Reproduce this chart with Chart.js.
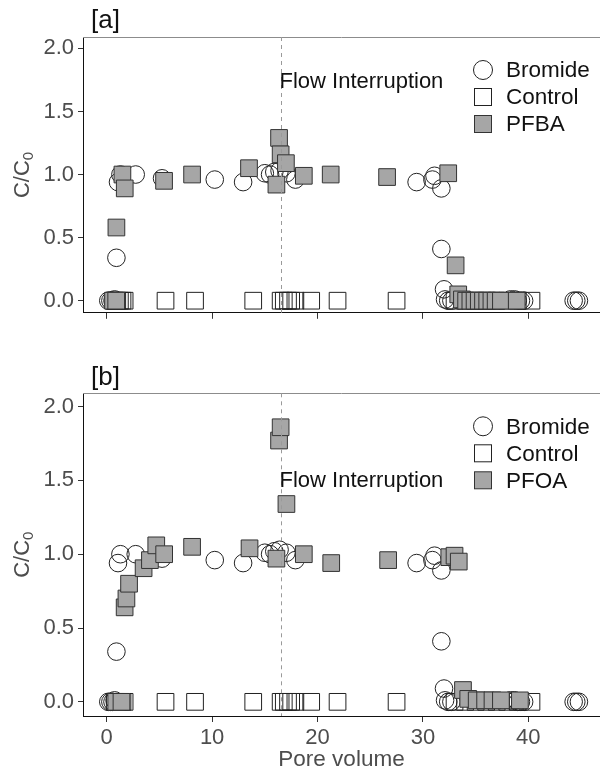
<!DOCTYPE html>
<html><head><meta charset="utf-8">
<script src="https://cdn.jsdelivr.net/npm/chart.js@4.4.0/dist/chart.umd.min.js"></script>
<style>
html,body{margin:0;padding:0;background:#fff;}
#wrap{position:relative;width:600px;height:773px;overflow:hidden;}
canvas{position:absolute;left:0;}
#ca{top:0;}
#cb{top:330px;}
</style></head><body>
<div id="wrap">
<canvas id="ca" width="600" height="330"></canvas>
<canvas id="cb" width="600" height="443"></canvas>
</div>
<script>
// ---- data ----
const bromidePV = [0.15,0.35,0.55,0.75,0.92,1.07,1.3,2.75,5.25,10.25,12.94,15.0,15.5,15.9,16.4,17.05,17.9,29.4,30.9,31.1,31.75,31.75,32.0,32.1,32.4,32.7,38.3,38.7,39.0,39.3,39.6,44.3,44.55,44.8];
const bromideC  = [0.0,0.0,0.0,0.01,0.34,0.94,1.0,1.0,0.97,0.96,0.94,1.01,1.0,1.02,1.03,1.01,0.96,0.94,0.96,0.99,0.89,0.41,0.09,0.01,0.0,0.0,0.01,0.01,0.0,0.0,0.0,0.0,0.0,0.0];

const controlPV = [0.76,1.0,1.25,1.5,1.7,5.58,8.38,13.9,16.5,16.8,17.2,17.5,17.9,19.4,21.9,27.5,33.0,34.0,35.0,36.0,37.0,38.0,39.0,40.3];
const controlC  = [0,0,0,0,0,0,0,0,0,0,0,0,0,0,0,0,0,0,0,0,0,0,0,0];

const pfbaPV = [0.6,0.9,0.92,1.49,1.71,5.44,8.1,13.5,16.1,16.35,16.5,17.0,18.7,21.25,26.6,32.4,33.1,33.35,33.7,34.1,34.5,34.9,35.3,35.7,36.1,36.5,36.9,37.4,38.9];
const pfbaC  = [0.0,0.0,0.58,1.0,0.89,0.95,1.0,1.05,0.92,1.29,1.16,1.09,0.99,1.0,0.98,1.01,0.28,0.05,0.01,0.0,0.0,0.0,0.0,0.0,0.0,0.0,0.0,0.0,0.0];

const pfoaPV = [0.9,1.4,1.7,1.87,2.12,3.5,4.1,4.7,5.45,8.1,13.55,16.1,16.35,16.5,17.05,18.7,21.3,26.7,32.5,33.0,33.4,33.8,34.3,35.1,35.9,36.6,37.4,39.2];
const pfoaC  = [0.0,0.0,0.64,0.70,0.80,0.905,0.96,1.06,1.0,1.05,1.04,0.97,1.77,1.86,1.34,1.0,0.94,0.96,0.98,0.99,0.95,0.08,0.02,0.01,0.01,0.01,0.01,0.01];

const xTicks = [0,10,20,30,40];
const yTicks = [0,0.5,1.0,1.5,2.0];
const interruptionPV = 16.5;

// ---- styling ----
const FONT = '"Liberation Sans", Arial, sans-serif';
const GRAYFILL = '#a6a6a6';
const pts = (xs, ys) => xs.map((x, i) => ({x: x, y: ys[i]}));

const deco = {
  id: 'deco',
  afterDatasetsDraw(chart, args, o) {
    const ctx = chart.ctx, a = chart.chartArea, xs = chart.scales.x;
    ctx.save();
    // top panel line
    ctx.strokeStyle = '#8c8c8c'; ctx.lineWidth = 1;
    ctx.beginPath(); ctx.moveTo(a.left, Math.round(a.top) + 0.5); ctx.lineTo(a.right, Math.round(a.top) + 0.5); ctx.stroke();
    // flow interruption dashed line
    const px = Math.round(xs.getPixelForValue(interruptionPV)) + 0.5;
    ctx.setLineDash([4, 4]); ctx.strokeStyle = '#9a9a9a';
    ctx.beginPath(); ctx.moveTo(px, a.top); ctx.lineTo(px, a.bottom); ctx.stroke();
    ctx.setLineDash([]);
    ctx.fillStyle = '#111'; ctx.textBaseline = 'middle'; ctx.textAlign = 'left';
    ctx.font = '22px ' + FONT;
    ctx.fillText('Flow Interruption', px - 2, a.top + o.flowDy);
    // panel tag
    ctx.font = '26px ' + FONT;
    ctx.fillText(o.tag, 91, o.tagY);
    // y axis title C/C0
    ctx.save();
    ctx.translate(23, (a.top + a.bottom) / 2);
    ctx.rotate(-Math.PI / 2);
    ctx.fillStyle = '#4d4d4d';
    ctx.font = '22px ' + FONT;
    const w1 = ctx.measureText('C/C').width;
    ctx.font = '15px ' + FONT;
    const w2 = ctx.measureText('0').width;
    const sx = -(w1 + w2) / 2;
    ctx.textAlign = 'left';
    ctx.font = '22px ' + FONT;
    ctx.fillText('C/C', sx, 0);
    ctx.font = '15px ' + FONT;
    ctx.fillText('0', sx + w1, 6);
    ctx.restore();
    // legend
    const lx = 483, tx = 506;
    const ly = [a.top + 33, a.top + 60, a.top + 87];
    const names = ['Bromide', 'Control', o.compound];
    ctx.lineWidth = 1;
    ctx.strokeStyle = '#222';
    ctx.beginPath(); ctx.arc(lx, ly[0], 9.5, 0, Math.PI * 2); ctx.stroke();
    ctx.fillStyle = '#fff';
    ctx.fillRect(lx - 8.5, ly[1] - 8.5, 17, 17); ctx.strokeRect(lx - 8.5, ly[1] - 8.5, 17, 17);
    ctx.fillStyle = GRAYFILL; ctx.strokeStyle = '#333';
    ctx.fillRect(lx - 8.5, ly[2] - 8.5, 17, 17); ctx.strokeRect(lx - 8.5, ly[2] - 8.5, 17, 17);
    ctx.fillStyle = '#111'; ctx.font = '22.5px ' + FONT; ctx.textBaseline = 'middle';
    names.forEach((n, i) => ctx.fillText(n, tx, ly[i] + 1));
    ctx.restore();
  }
};

function makeChart(id, compoundPV, compoundC, opt) {
  return new Chart(document.getElementById(id), {
    type: 'scatter',
    data: {
      datasets: [
        { label: opt.compound, data: pts(compoundPV, compoundC), pointStyle: 'rect', pointRadius: 11.8,
          backgroundColor: GRAYFILL, borderColor: '#333', borderWidth: 1 },
        { label: 'Bromide', data: pts(bromidePV, bromideC), pointStyle: 'circle', pointRadius: 8.8,
          backgroundColor: 'rgba(0,0,0,0)', borderColor: '#222', borderWidth: 1 },
        { label: 'Control', data: pts(controlPV, controlC), pointStyle: 'rect', pointRadius: 11.8,
          backgroundColor: 'rgba(0,0,0,0)', borderColor: '#222', borderWidth: 1 }
      ]
    },
    options: {
      responsive: false, animation: false, events: [],
      layout: { autoPadding: false, padding: { top: opt.padTop, left: 0, right: 0, bottom: 0 } },
      plugins: { legend: { display: false }, tooltip: { enabled: false }, deco: opt },
      scales: {
        x: {
          type: 'linear', min: -2.25, max: 46.8,
          afterBuildTicks: s => { s.ticks = xTicks.map(v => ({ value: v })); },
          afterFit: s => { s.height = opt.xH; },
          grid: { drawOnChartArea: false, drawTicks: true, tickLength: 6, color: '#333' },
          border: { display: true, color: '#111', width: 1 },
          ticks: { color: opt.showX ? '#4d4d4d' : 'rgba(0,0,0,0)', padding: 3, font: { size: 22, family: FONT },
                   callback: v => String(v) },
          title: { display: opt.showX, text: 'Pore volume', color: '#4d4d4d', font: { size: 22.5, family: FONT },
                   padding: { top: 0, bottom: 0 } }
        },
        y: {
          type: 'linear', min: -0.096, max: 2.09,
          afterBuildTicks: s => { s.ticks = yTicks.map(v => ({ value: v })); },
          afterFit: s => { s.width = 83; },
          grid: { drawOnChartArea: false, drawTicks: true, tickLength: 5, color: '#333' },
          border: { display: true, color: '#111', width: 1 },
          ticks: { color: '#4d4d4d', padding: 4, font: { size: 22, family: FONT }, callback: v => v.toFixed(1) }
        }
      }
    },
    plugins: [deco]
  });
}

makeChart('ca', pfbaPV, pfbaC, { compound: 'PFBA', tag: '[a]', tagY: 21, flowDy: 45, padTop: 37, xH: 17, showX: false });
makeChart('cb', pfoaPV, pfoaC, { compound: 'PFOA', tag: '[b]', tagY: 48, flowDy: 88, padTop: 63.3, xH: 57, showX: true });
</script>
</body></html>
